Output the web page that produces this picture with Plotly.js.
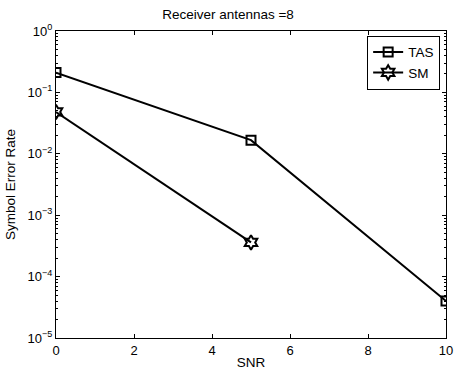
<!DOCTYPE html>
<html><head><meta charset="utf-8">
<script src="https://cdn.plot.ly/plotly-3.0.1.min.js"></script>
<style>html,body{margin:0;padding:0;background:#fff}#c{width:456px;height:372px}</style>
</head><body><div id="c"></div>
<script>
const snrTAS = [0, 5, 10];
const serTAS = [0.21, 0.0167, 4.0e-5];
const snrSM = [0, 5];
const serSM = [0.048, 3.6e-4];
const xTicks = [0, 2, 4, 6, 8, 10];
const yTickVals = [1, 0.1, 0.01, 0.001, 0.0001, 0.00001];
const yTickText = ['10<sup>0</sup>', '10<sup>−1</sup>', '10<sup>−2</sup>', '10<sup>−3</sup>', '10<sup>−4</sup>', '10<sup>−5</sup>'];

const minorVals = [];
for (let e = -5; e < 0; e++) for (let m = 2; m <= 9; m++) minorVals.push(m * Math.pow(10, e));

const fam = 'Liberation Sans, Arial, sans-serif';
const tickFont = {family: fam, size: 13, color: '#000'};
const labFont = {family: fam, size: 13.5, color: '#000'};
const data = [
  {x: snrTAS, y: serTAS, name: 'TAS', mode: 'lines+markers',
   line: {color: '#000', width: 2},
   marker: {symbol: 'square-open', size: 9, color: '#000', line: {width: 2, color: '#000'}}},
  {x: snrSM, y: serSM, name: 'SM', mode: 'lines+markers',
   line: {color: '#000', width: 2},
   marker: {symbol: 'hexagram-open', size: 11, color: '#000', line: {width: 2, color: '#000'}}}
];
const layout = {
  width: 456, height: 372,
  margin: {l: 56, r: 10, t: 31, b: 34},
  paper_bgcolor: '#fff', plot_bgcolor: '#fff',
  font: labFont,
  showlegend: true,
  title: {text: 'Receiver antennas =8', font: labFont, x: 0.5, xanchor: 'center', y: 0.962, yanchor: 'middle'},
  xaxis: {range: [0, 10], tickvals: xTicks, ticks: 'inside', ticklen: 4, tickcolor: '#000',
    showline: true, linecolor: '#000', linewidth: 1, mirror: 'ticks', showgrid: false, zeroline: false,
    tickfont: tickFont,
    title: {text: 'SNR', font: labFont, standoff: 0}},
  yaxis: {type: 'log', range: [-5, 0], tickmode: 'array', tickvals: yTickVals, ticktext: yTickText,
    ticks: 'inside', ticklen: 4, tickcolor: '#000',
    minor: {tickmode: 'array', tickvals: minorVals, ticks: 'inside', ticklen: 2, tickcolor: '#000', showgrid: false},
    showline: true, linecolor: '#000', linewidth: 1, mirror: 'ticks', showgrid: false, zeroline: false,
    tickfont: tickFont,
    title: {text: 'Symbol Error Rate', font: labFont, standoff: 8}},
  legend: {x: 0.985, xanchor: 'right', y: 0.985, yanchor: 'top', bgcolor: '#fff',
    bordercolor: '#000', borderwidth: 1, font: labFont,
    itemwidth: 30, tracegroupgap: 0}
};
Plotly.newPlot('c', data, layout, {staticPlot: true, displayModeBar: false});
</script></body></html>
